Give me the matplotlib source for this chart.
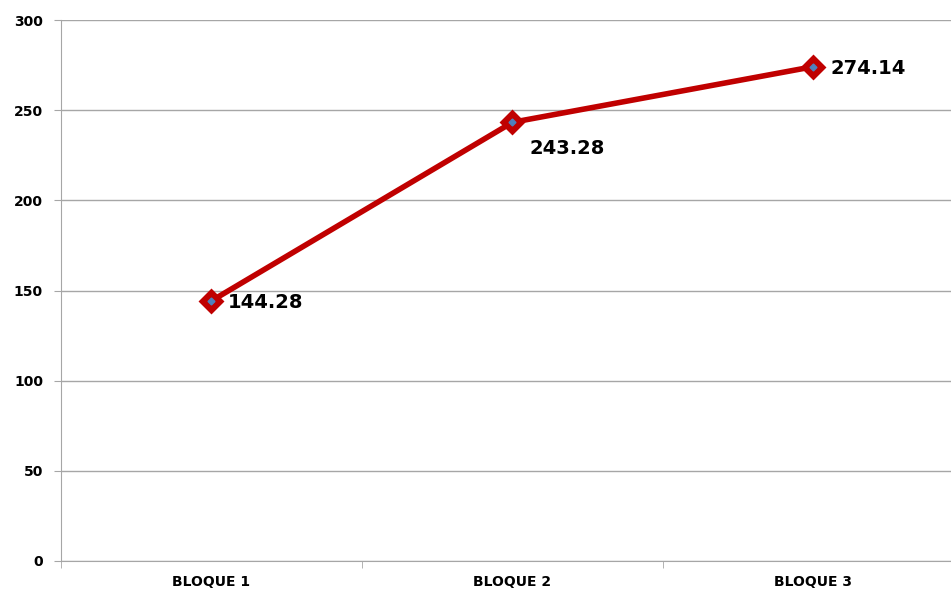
import matplotlib
matplotlib.use("Agg")
import matplotlib.pyplot as plt

categories = ["BLOQUE 1", "BLOQUE 2", "BLOQUE 3"]
values = [144.28, 243.28, 274.14]
yticks = [0, 50, 100, 150, 200, 250, 300]

fig = plt.figure(figsize=(9.51, 5.90), dpi=100)
ax = fig.add_axes([61/951, 29/590, 903/951, 541/590])
x = list(range(len(categories)))

ax.set_xlim(-0.5, 2.5)
ax.set_ylim(0, 300)
ax.set_yticks(yticks)
ax.set_yticklabels([str(t) for t in yticks], fontweight="bold", fontsize=10)
ax.yaxis.grid(True, color="#A6A6A6", linewidth=1)
ax.set_axisbelow(True)
ax.set_xticks(x)
ax.set_xticklabels(categories, fontweight="bold", fontsize=10)
ax.set_xticks([-0.5, 0.5, 1.5, 2.5], minor=True)
ax.tick_params(axis="x", which="major", length=0, pad=10)
ax.tick_params(axis="x", which="minor", length=5, color="#A6A6A6")
ax.tick_params(axis="y", length=5, color="#A6A6A6", pad=8)
for s in ["top", "right"]:
    ax.spines[s].set_visible(False)
for s in ["left", "bottom"]:
    ax.spines[s].set_color("#A6A6A6")

ax.plot(x, values, color="#C00000", linewidth=4, marker="D", markersize=11,
        markerfacecolor="#C00000", markeredgecolor="#C00000", markeredgewidth=2,
        solid_capstyle="round", zorder=3)
ax.plot(x, values, linestyle="none", marker="D", markersize=3.5,
        markerfacecolor="#4F81BD", markeredgecolor="#4F81BD", zorder=4)

offsets = [(12, -1), (12, -19), (12, -1)]
for xi, v, off in zip(x, values, offsets):
    ax.annotate(f"{v:.2f}", (xi, v), xytext=off, textcoords="offset points",
                ha="left", va="center", fontsize=14, fontweight="bold")

fig.savefig("out.png", dpi=100)
